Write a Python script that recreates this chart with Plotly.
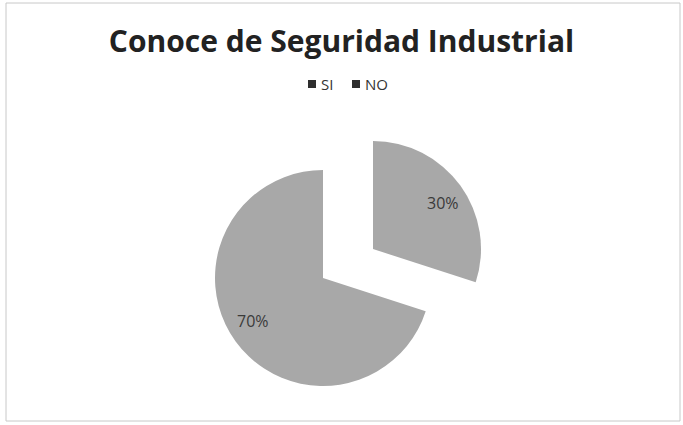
import math
import plotly.graph_objects as go

# Datos del gráfico
etiquetas = ["SI", "NO"]
valores = [30, 70]

GRIS = "#a8a8a8"
TRANSP = "rgba(0,0,0,0)"
TEXTO = "#3a3a3a"

W, H = 683, 425
R = 108  # radio del pastel en px

# centros (px) de la porción fija y de la porción separada
CENTRO_NO = (323, 278)
CENTRO_SI = (373, 249)


def px_x(x):
    return x / W


def px_y(y):
    return 1 - y / H


def dominio(c):
    return dict(x=[px_x(c[0] - R), px_x(c[0] + R)],
                y=[px_y(c[1] + R), px_y(c[1] - R)])


fig = go.Figure()

# Porción grande (NO) -- SI queda transparente
fig.add_trace(go.Pie(
    labels=etiquetas, values=valores, sort=False,
    direction="clockwise", rotation=0,
    marker=dict(colors=[TRANSP, GRIS], line=dict(width=0)),
    textinfo="none",
    domain=dominio(CENTRO_NO),
    showlegend=False, hoverinfo="label+percent",
))

# Porción separada (SI)
fig.add_trace(go.Pie(
    labels=etiquetas, values=valores, sort=False,
    direction="clockwise", rotation=0,
    marker=dict(colors=[GRIS, TRANSP], line=dict(width=0)),
    textinfo="none",
    domain=dominio(CENTRO_SI),
    showlegend=False, hoverinfo="label+percent",
))

annotations = []

# Etiquetas de porcentaje sobre la bisectriz de cada porción
total = sum(valores)
acumulado = 0
for v, centro in zip(valores, [CENTRO_SI, CENTRO_NO]):
    medio = (acumulado + v / 2) / total * 2 * math.pi
    acumulado += v
    x = centro[0] + 0.8 * R * math.sin(medio)
    y = centro[1] - 0.8 * R * math.cos(medio)
    annotations.append(dict(
        text=f"{round(v / total * 100)}%", xref="paper", yref="paper",
        x=px_x(x), y=px_y(y), yshift=-5, showarrow=False,
        font=dict(family="Open Sans", size=16, color=TEXTO)))

# Borde del área del gráfico
shapes = [
    dict(type="rect", xref="paper", yref="paper",
         x0=px_x(6), x1=px_x(680), y0=px_y(421), y1=px_y(3),
         line=dict(color="#c8c8c8", width=1)),
]

# Leyenda dibujada a mano (cuadros oscuros como en el original)
leyenda_x = [308, 352]
for nombre, x0 in zip(etiquetas, leyenda_x):
    shapes.append(dict(type="rect", xref="paper", yref="paper",
                       x0=px_x(x0), x1=px_x(x0 + 8), y0=px_y(88), y1=px_y(80),
                       fillcolor="#2e2e2e", line=dict(width=0)))
    annotations.append(dict(text=nombre, xref="paper", yref="paper",
                            x=px_x(x0 + 11), y=px_y(84), xanchor="left",
                            yanchor="middle", showarrow=False,
                            font=dict(family="Open Sans", size=15, color="#333333")))

fig.update_layout(
    width=W,
    height=H,
    margin=dict(l=0, r=0, t=0, b=0),
    paper_bgcolor="white",
    plot_bgcolor="white",
    title=dict(text="<b>Conoce de Seguridad Industrial</b>",
               x=0.5, xanchor="center", y=px_y(41), yanchor="middle",
               font=dict(family="Open Sans", size=30, color="#222222")),
    shapes=shapes,
    annotations=annotations,
    showlegend=False,
)

fig.write_html("out.html", config={"displayModeBar": False},
               post_script="document.body.style.margin='0';")
